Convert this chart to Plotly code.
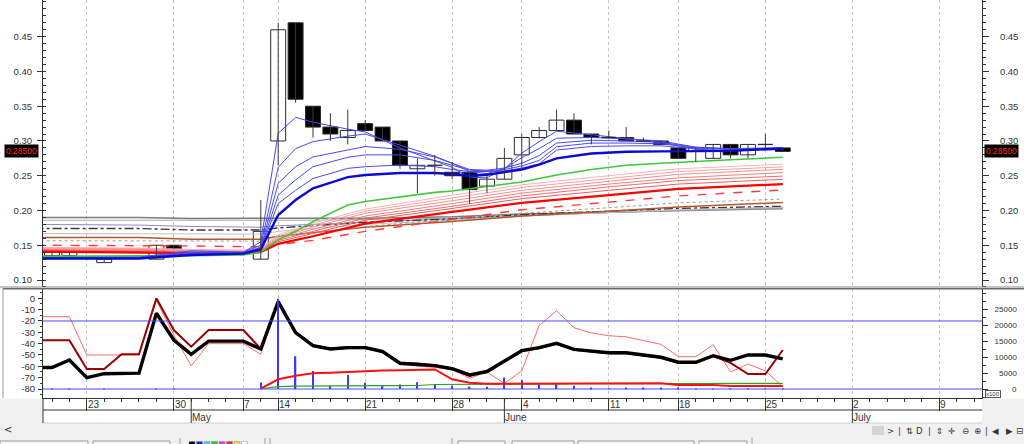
import plotly.graph_objects as go

# ---------------- data ----------------
AXIS_DATES = [
    "2018-04-18", "2018-04-19", "2018-04-20", "2018-04-23", "2018-04-24", "2018-04-25", "2018-04-26", "2018-04-27", "2018-04-30",
    "2018-05-02", "2018-05-03", "2018-05-04", "2018-05-07", "2018-05-08", "2018-05-14", "2018-05-15", "2018-05-16", "2018-05-17",
    "2018-05-18", "2018-05-21", "2018-05-22", "2018-05-23", "2018-05-24", "2018-05-25", "2018-05-28", "2018-05-30", "2018-05-31",
    "2018-06-01", "2018-06-04", "2018-06-05", "2018-06-06", "2018-06-07", "2018-06-08", "2018-06-11", "2018-06-12", "2018-06-13",
    "2018-06-14", "2018-06-18", "2018-06-19", "2018-06-20", "2018-06-21", "2018-06-22", "2018-06-25", "2018-06-26", "2018-06-27",
    "2018-06-28", "2018-06-29", "2018-07-02", "2018-07-03", "2018-07-04", "2018-07-05", "2018-07-06", "2018-07-09", "2018-07-10",
    "2018-07-11", "2018-07-12",
]
CANDLE_DATES = AXIS_DATES[:44]   # 2018-04-18 .. 2018-06-26

OPEN = [None, 0.135, 0.135, None, 0.125, None, None, 0.130, 0.150, None, None, None, None, 0.130,
        0.300, 0.470, 0.350, 0.320, 0.305, 0.325, 0.320, 0.300, 0.260, 0.265, 0.255, 0.255, 0.235, 0.245,
        0.280, 0.305, 0.315, 0.330, 0.310, 0.305, 0.305, 0.300, 0.300, 0.290, 0.285, 0.275, 0.295, 0.280, 0.295, 0.290]
HIGH = [None, 0.140, 0.140, None, 0.130, None, None, 0.150, 0.150, None, None, None, None, 0.215,
        0.470, 0.470, 0.350, 0.340, 0.345, 0.330, 0.320, 0.300, 0.275, 0.280, 0.270, 0.255, 0.250, 0.290,
        0.310, 0.320, 0.345, 0.340, 0.310, 0.315, 0.320, 0.305, 0.300, 0.290, 0.290, 0.295, 0.295, 0.295, 0.310, 0.290]
LOW = [None, 0.135, 0.135, None, 0.125, None, None, 0.130, 0.145, None, None, None, None, 0.130,
       0.265, 0.355, 0.305, 0.300, 0.295, 0.315, 0.300, 0.260, 0.225, 0.250, 0.245, 0.210, 0.225, 0.245,
       0.260, 0.305, 0.315, 0.310, 0.295, 0.305, 0.300, 0.300, 0.295, 0.275, 0.270, 0.275, 0.275, 0.275, 0.290, 0.285]
CLOSE = [None, 0.140, 0.140, None, 0.130, None, None, 0.150, 0.145, None, None, None, None, 0.170,
         0.460, 0.360, 0.320, 0.310, 0.315, 0.315, 0.300, 0.265, 0.265, 0.265, 0.250, 0.230, 0.245, 0.275,
         0.305, 0.315, 0.330, 0.310, 0.305, 0.305, 0.300, 0.300, 0.295, 0.275, 0.290, 0.295, 0.280, 0.295, 0.295, 0.285]
LAST_PRICE = 0.285

# short-term moving averages (read at these dates)
FAST_MA_DATES = ["2018-04-18", "2018-04-26", "2018-05-02", "2018-05-07", "2018-05-08", "2018-05-14", "2018-05-15",
                 "2018-05-16", "2018-05-18", "2018-05-21", "2018-05-23", "2018-05-25", "2018-05-28", "2018-05-30",
                 "2018-05-31", "2018-06-01", "2018-06-04", "2018-06-05", "2018-06-06", "2018-06-08", "2018-06-12",
                 "2018-06-14", "2018-06-19", "2018-06-21", "2018-06-26"]
BLUE_1 = [0.132, 0.133, 0.142, 0.140, 0.155, 0.311, 0.334, 0.327, 0.317, 0.313, 0.290, 0.272, 0.262, 0.248, 0.247,
          0.260, 0.2825, 0.299, 0.314, 0.309, 0.3035, 0.298, 0.288, 0.286, 0.289]
BLUE_2 = [0.132, 0.132, 0.140, 0.140, 0.150, 0.262, 0.289, 0.299, 0.307, 0.310, 0.294, 0.278, 0.268, 0.256, 0.253,
          0.260, 0.276, 0.289, 0.304, 0.305, 0.303, 0.300, 0.291, 0.288, 0.290]
BLUE_3 = [0.132, 0.132, 0.139, 0.139, 0.147, 0.239, 0.263, 0.277, 0.287, 0.292, 0.288, 0.277, 0.268, 0.259, 0.258,
          0.261, 0.268, 0.279, 0.297, 0.301, 0.300, 0.298, 0.291, 0.289, 0.290]
BLUE_4 = [0.132, 0.132, 0.138, 0.139, 0.146, 0.222, 0.244, 0.263, 0.2765, 0.280, 0.280, 0.272, 0.265, 0.258, 0.257,
          0.259, 0.264, 0.272, 0.2917, 0.297, 0.297, 0.296, 0.290, 0.289, 0.290]
BLUE_5 = [0.131, 0.131, 0.137, 0.138, 0.145, 0.210, 0.229, 0.246, 0.2606, 0.263, 0.2654, 0.263, 0.259, 0.256, 0.256,
          0.257, 0.261, 0.267, 0.287, 0.292, 0.293, 0.293, 0.289, 0.288, 0.289]
BLUE_THICK = [0.131, 0.131, 0.136, 0.138, 0.144, 0.1935, 0.215, 0.232, 0.248, 0.251, 0.254, 0.254, 0.2525, 0.2496,
              0.2515, 0.255, 0.259, 0.266, 0.275, 0.282, 0.2845, 0.285, 0.2856, 0.2858, 0.289]
GREEN = [0.134, 0.134, 0.135, 0.136, 0.140, 0.158, 0.170, 0.184, 0.208, 0.213, 0.220, 0.226, 0.228, 0.231, 0.234,
         0.237, 0.241, 0.246, 0.251, 0.259, 0.265, 0.268, 0.271, 0.273, 0.2765]

# long-term moving averages (read at these dates)
SLOW_MA_DATES = ["2018-04-18", "2018-04-26", "2018-05-02", "2018-05-07", "2018-05-08", "2018-05-14", "2018-05-16",
                 "2018-05-21", "2018-05-28", "2018-06-04", "2018-06-11", "2018-06-18", "2018-06-26"]
RED_1 = [0.147, 0.146, 0.144, 0.143, 0.146, 0.165, 0.182, 0.202, 0.222, 0.237, 0.250, 0.260, 0.2665]
RED_2 = [0.146, 0.145, 0.143, 0.142, 0.145, 0.163, 0.179, 0.199, 0.218, 0.233, 0.246, 0.256, 0.2628]
RED_3 = [0.145, 0.144, 0.142, 0.141, 0.144, 0.161, 0.176, 0.196, 0.214, 0.229, 0.242, 0.252, 0.2592]
RED_4 = [0.144, 0.143, 0.141, 0.140, 0.143, 0.159, 0.173, 0.192, 0.210, 0.225, 0.238, 0.247, 0.2545]
RED_5 = [0.143, 0.142, 0.140, 0.139, 0.142, 0.157, 0.170, 0.189, 0.206, 0.221, 0.234, 0.243, 0.2495]
RED_6 = [0.142, 0.141, 0.139, 0.138, 0.141, 0.155, 0.167, 0.186, 0.203, 0.217, 0.229, 0.238, 0.2448]
RED_THICK = [0.141, 0.140, 0.139, 0.138, 0.140, 0.152, 0.163, 0.181, 0.198, 0.211, 0.222, 0.231, 0.238]
RED_DASHED = [0.150, 0.150, 0.149, 0.148, 0.148, 0.151, 0.157, 0.170, 0.187, 0.201, 0.212, 0.221, 0.2294]
GREY_1 = [0.190, 0.190, 0.1885, 0.1885, 0.1885, 0.1885, 0.1885, 0.189, 0.191, 0.195, 0.198, 0.200, 0.2025]
GREY_2 = [0.186, 0.186, 0.185, 0.185, 0.185, 0.185, 0.186, 0.187, 0.189, 0.193, 0.197, 0.200, 0.2035]
LAVENDER = [0.180, 0.179, 0.177, 0.176, 0.176, 0.178, 0.180, 0.184, 0.188, 0.193, 0.197, 0.200, 0.2045]
DASHDOT = [0.174, 0.174, 0.172, 0.172, 0.172, 0.175, 0.178, 0.183, 0.188, 0.194, 0.199, 0.203, 0.206]
GREY_3 = [0.167, 0.167, 0.166, 0.166, 0.166, 0.170, 0.174, 0.180, 0.186, 0.192, 0.197, 0.201, 0.2045]
BROWN = [0.161, 0.161, 0.1585, 0.1585, 0.1585, 0.163, 0.168, 0.176, 0.184, 0.192, 0.199, 0.205, 0.2115]
DOTTED = [0.1565, 0.1565, 0.156, 0.156, 0.156, 0.162, 0.168, 0.177, 0.187, 0.196, 0.204, 0.211, 0.2165]

# lower panel: oscillator lines (left scale) for CANDLE_DATES
OSC_BLACK = [-61, -61, -54.4, -70, -66.5, -66, -66, -13.2, -36.8, -49.4, -37.8, -37.8, -37.8, -44.7,
             -3, -30.3, -41.8, -44.7, -43.5, -43.5, -47, -57.3, -58, -59.4, -62.1, -67.6, -64.6, -55.3,
             -46.2, -43.5, -39.7, -45, -46.2, -48, -48, -50, -52, -56.4, -56.4, -50.6, -54.7, -50, -50, -53.5]
OSC_DARKRED = [-37, -37, -37, -62.3, -62.3, -49.4, -49.4, 0, -28, -42.6, -28, -28, -28, -44.7,
               -3, -30, -41.5, -44.5, -43, -43, -46.5, -57, -57.5, -59, -62, -68.5, -64, -55.5,
               -46.5, -44, -40.2, -45.5, -46.8, -48.5, -48.5, -50.5, -52.5, -56.8, -56.8, -51, -57, -66.8, -66.8, -45.6]
OSC_LIGHTRED = [-16.2, -16.2, -16.2, -50, -50, -50, -50, -2, -32.4, -59.7, -40, -40, -40, -49.4,
                -3, -30.8, -42.5, -45.5, -44.5, -44.5, -48, -58.5, -59.5, -61, -63, -70.5, -65, -75,
                -64, -24, -11, -26, -30.5, -33, -34, -37, -40.6, -51.5, -51.5, -41, -65, -58, -64, -78]
OSC_LEVELS = [-20, -80]

# lower panel: volume (x100, right scale) and its averages
VOLUME = [0, 40, 40, 0, 40, 0, 0, 40, 40, 0, 0, 0, 0, 2000,
          28200, 10200, 5600, 1050, 4360, 1970, 1050, 1400, 2100, 1230, 1050, 700, 700, 3600,
          2800, 1400, 1650, 1000, 350, 100, 500, 350, 200, 300, 150, 150, 50, 50, 50, 150]
VOL_AVG_FAST = [None, None, None, None, None, None, None, None, None, None, None, None, None, 150,
                3030, 4150, 4900, 5100, 5400, 5630, 5800, 5880, 6000, 6120, 3030, 1970, 1650, 1650,
                1650, 1870, 1870, 1870, 1760, 1760, 1760, 1760, 1760, 1270, 1270, 1270, 950, 950, 950, 950]
VOL_AVG_SLOW = [None, None, None, None, None, None, None, None, None, None, None, None, None, 80,
                740, 880, 950, 1000, 1050, 1050, 1050, 1050, 1100, 1400, 1400, 1450, 1500, 1580,
                1580, 1600, 1620, 1640, 1650, 1660, 1670, 1680, 1690, 1700, 1710, 1720, 1730, 1740, 1750, 1760]

# axis labels
WEEK_TICKS = ["2018-04-23", "2018-04-30", "2018-05-07", "2018-05-14", "2018-05-21", "2018-05-28",
              "2018-06-04", "2018-06-11", "2018-06-18", "2018-06-25", "2018-07-02", "2018-07-09"]
MONTH_TICKS = ["2018-05-02", "2018-06-01", "2018-07-02"]
MONTH_LABELS = ["May", "June", "July"]
PRICE_TICKS = [0.10, 0.15, 0.20, 0.25, 0.30, 0.35, 0.40, 0.45]
OSC_TICKS = [0, -10, -20, -30, -40, -50, -60, -70, -80]
VOL_TICKS = [0, 5000, 10000, 15000, 20000, 25000]


# ---------------- helpers ----------------
def idx(dates):
    return [AXIS_DATES.index(d) for d in dates]


W, H = 1024, 444
ML, MR, MT, MB = 43, 42, 0, 46
PW, PH = W - ML - MR, H - MT - MB


def px(xp):
    return (xp - ML) / PW


def py(yp):
    return (H - MB - yp) / PH


FONT = "Liberation Sans, Arial, sans-serif"
fig = go.Figure()

# ---------------- price panel lines ----------------
slow_x = idx(SLOW_MA_DATES)
fast_x = idx(FAST_MA_DATES)
slow_lines = [
    (GREY_1, "#7a7a7a", 1.5, "solid"), (GREY_2, "#a8a8a8", 1, "solid"), (LAVENDER, "#8c8cc8", 1, "solid"),
    (DASHDOT, "#3a3a3a", 1.4, "dashdot"), (GREY_3, "#c2c2c2", 1, "solid"), (BROWN, "#b4562a", 1.5, "solid"),
    (DOTTED, "#9a9a9a", 1, "dot"),
    (RED_1, "#f7b4b4", 1, "solid"), (RED_2, "#f5a2a2", 1, "solid"), (RED_3, "#f39090", 1, "solid"),
    (RED_4, "#f08080", 1, "solid"), (RED_5, "#ee6e6e", 1, "solid"), (RED_6, "#ec5c5c", 1, "solid"),
    (RED_DASHED, "#ff3a3a", 1.4, "dash"), (RED_THICK, "#ff0000", 2.2, "solid"),
]
for vals, col, wd, dash in slow_lines:
    fig.add_trace(go.Scatter(x=slow_x, y=vals, mode="lines", xaxis="x", yaxis="y",
                             line=dict(color=col, width=wd, dash=dash), hoverinfo="skip"))

fast_lines = [
    (GREEN, "#3cc83c", 1.6), (BLUE_5, "#4a4af0", 1), (BLUE_4, "#4a4af0", 1), (BLUE_3, "#4a4af0", 1),
    (BLUE_2, "#4a4af0", 1), (BLUE_1, "#4a4af0", 1), (BLUE_THICK, "#0a0ad2", 2.4),
]
for vals, col, wd in fast_lines:
    fig.add_trace(go.Scatter(x=fast_x, y=vals, mode="lines", xaxis="x", yaxis="y",
                             line=dict(color=col, width=wd), hoverinfo="skip"))

# ---------------- candles ----------------
cx = idx(CANDLE_DATES)
wx, wy, bx, bb, bh, bc, dx, dy = [], [], [], [], [], [], [], []
for i, o, h, l, c in zip(cx, OPEN, HIGH, LOW, CLOSE):
    if o is None:
        continue
    wx += [i, i, None]
    wy += [l, h, None]
    if abs(c - o) < 1e-9:
        dx += [i - 0.43, i + 0.43, None]
        dy += [o, o, None]
    else:
        bx.append(i)
        bb.append(min(o, c))
        bh.append(abs(c - o))
        bc.append("rgba(255,255,255,0)" if c > o else "#000000")
fig.add_trace(go.Scatter(x=wx, y=wy, mode="lines", xaxis="x", yaxis="y",
                         line=dict(color="#3a3a3a", width=1), hoverinfo="skip"))
fig.add_trace(go.Scatter(x=dx, y=dy, mode="lines", xaxis="x", yaxis="y",
                         line=dict(color="#2a2a2a", width=1.3), hoverinfo="skip"))
fig.add_trace(go.Bar(x=bx, y=bh, base=bb, width=0.86, xaxis="x", yaxis="y",
                     marker=dict(color=bc, line=dict(color="#2a2a2a", width=1)), hoverinfo="skip"))
fig.add_trace(go.Scatter(x=[cx[-1]], y=[LAST_PRICE], mode="markers", xaxis="x", yaxis="y4",
                         marker=dict(size=1, opacity=0), hoverinfo="skip"))

# ---------------- lower panel ----------------
fig.add_trace(go.Bar(x=cx, y=VOLUME, width=0.08, xaxis="x", yaxis="y3",
                     marker=dict(color="#3a3aff", line=dict(width=0)), hoverinfo="skip"))
fig.add_trace(go.Scatter(x=cx, y=VOL_AVG_SLOW, mode="lines", xaxis="x", yaxis="y3",
                         line=dict(color="#2ea02e", width=1.2), hoverinfo="skip"))
fig.add_trace(go.Scatter(x=cx, y=VOL_AVG_FAST, mode="lines", xaxis="x", yaxis="y3",
                         line=dict(color="#ff1010", width=2), hoverinfo="skip"))
fig.add_trace(go.Scatter(x=cx, y=OSC_LIGHTRED, mode="lines", xaxis="x", yaxis="y2",
                         line=dict(color="#ff6a6a", width=1), hoverinfo="skip"))
fig.add_trace(go.Scatter(x=cx, y=OSC_DARKRED, mode="lines", xaxis="x", yaxis="y2",
                         line=dict(color="#9a0000", width=2), hoverinfo="skip"))
fig.add_trace(go.Scatter(x=cx, y=OSC_BLACK, mode="lines", xaxis="x", yaxis="y2",
                         line=dict(color="#000000", width=3.4), hoverinfo="skip"))

# ---------------- axes ----------------
axis_font = dict(family=FONT, size=9.5, color="#333333")
vol_font = dict(family=FONT, size=8, color="#333333")
top_dom = [py(287), 1]
bot_dom = [0, py(288.5)]
y_top = [0.10 - 7 / 695.2, 0.45 + 36.7 / 695.2]
y_osc = [-80 - (398 - 389) / 1.1338, 0 + (298.3 - 288.5) / 1.1338]
y_vol = [-(398 - 389) * 312.5, 25000 + (309 - 288.5) * 312.5]
vol_text = ["" if v == 0 else str(v).rjust(5, "\u2007") for v in VOL_TICKS]

fig.update_layout(
    width=W, height=H, margin=dict(l=ML, r=MR, t=MT, b=MB, autoexpand=False),
    paper_bgcolor="white", plot_bgcolor="white", showlegend=False, hovermode=False,
    barmode="overlay", font=dict(family=FONT, size=10, color="#333333"),
    xaxis=dict(domain=[0, 1], anchor="y2", range=[0.483, 54.45], tickmode="array",
               tickvals=idx(WEEK_TICKS), showticklabels=False, ticks="outside", ticklen=12,
               tickcolor="#333333", tickwidth=1, showgrid=True, gridcolor="#c4c4c4", griddash="dot",
               gridwidth=1, zeroline=False, showline=True, linecolor="#333333", linewidth=1,
               minor=dict(tickmode="linear", tick0=0, dtick=1, ticks="outside", ticklen=3,
                          tickcolor="#333333", showgrid=False)),
    yaxis=dict(domain=top_dom, anchor="x", range=y_top, tickmode="array", tickvals=PRICE_TICKS,
               ticktext=["%.2f" % v for v in PRICE_TICKS], ticks="outside", ticklen=5, tickcolor="#333333",
               showline=True, linecolor="#333333", showgrid=False, zeroline=False, tickfont=axis_font,
               ticklabelstandoff=3,
               minor=dict(tickmode="linear", tick0=0, dtick=0.01, ticks="inside", ticklen=3,
                          tickcolor="#333333", showgrid=False)),
    yaxis4=dict(overlaying="y", side="right", anchor="x", range=y_top, tickmode="array",
                tickvals=PRICE_TICKS, ticktext=["%.2f" % v for v in PRICE_TICKS], ticks="outside",
                ticklen=6, tickcolor="#333333", showline=True, linecolor="#333333", showgrid=False,
                zeroline=False, tickfont=axis_font, ticklabelstandoff=9,
                minor=dict(tickmode="linear", tick0=0, dtick=0.01, ticks="outside", ticklen=3,
                           tickcolor="#333333", showgrid=False)),
    yaxis2=dict(domain=bot_dom, anchor="x", range=y_osc, tickmode="array", tickvals=OSC_TICKS,
                ticktext=[str(v) for v in OSC_TICKS], ticks="outside", ticklen=4, tickcolor="#333333",
                showline=True, linecolor="#333333", showgrid=False, zeroline=False, tickfont=axis_font,
                ticklabelstandoff=1,
                minor=dict(tickmode="linear", tick0=0, dtick=5, ticks="outside", ticklen=2,
                           tickcolor="#333333", showgrid=False)),
    yaxis3=dict(overlaying="y2", side="right", anchor="x", range=y_vol, tickmode="array",
                tickvals=VOL_TICKS, ticktext=vol_text,
                ticks="outside", ticklen=5, tickcolor="#333333", showline=True, linecolor="#333333",
                showgrid=False, zeroline=False, tickfont=vol_font, ticklabelstandoff=5,
                minor=dict(tickmode="linear", tick0=0, dtick=2500, ticks="outside", ticklen=3,
                           tickcolor="#333333", showgrid=False)),
)

# ---------------- shapes ----------------
shapes = []
xl, xr = px(0), px(W)
shapes.append(dict(type="line", xref="paper", yref="paper", x0=xl, x1=xr, y0=py(287), y1=py(287),
                   line=dict(color="#8a8a8a", width=1)))
shapes.append(dict(type="line", xref="paper", yref="paper", x0=px(3), x1=xr, y0=py(288.8), y1=py(288.8),
                   line=dict(color="#6a6a6a", width=1.5)))
shapes.append(dict(type="line", xref="paper", yref="paper", x0=px(3), x1=px(3), y0=py(288.8), y1=py(398),
                   line=dict(color="#9a9a9a", width=1)))
for lv in OSC_LEVELS:
    shapes.append(dict(type="line", xref="paper", yref="y2", x0=0, x1=1, y0=lv, y1=lv,
                       line=dict(color="#4a4aff", width=1)))
shapes.append(dict(type="rect", xref="paper", yref="paper", x0=xl, x1=0, y0=py(398.5), y1=py(423),
                   fillcolor="#f0f0f0", line=dict(width=0), layer="below"))
shapes.append(dict(type="rect", xref="paper", yref="paper", x0=1, x1=xr, y0=py(398.5), y1=py(423),
                   fillcolor="#f0f0f0", line=dict(width=0), layer="below"))
shapes.append(dict(type="rect", xref="paper", yref="paper", x0=xl, x1=xr, y0=py(423), y1=py(H + 2),
                   fillcolor="#f0f0f0", line=dict(width=0), layer="below"))
shapes.append(dict(type="line", xref="paper", yref="paper", x0=0, x1=1, y0=py(410), y1=py(410),
                   line=dict(color="#333333", width=1)))
shapes.append(dict(type="line", xref="paper", yref="paper", x0=0, x1=1, y0=py(423), y1=py(423),
                   line=dict(color="#d0d0d0", width=1)))
shapes.append(dict(type="line", xref="paper", yref="paper", x0=0, x1=0, y0=py(398), y1=py(423),
                   line=dict(color="#333333", width=1)))
for m in idx(MONTH_TICKS):
    shapes.append(dict(type="line", xref="x", yref="paper", x0=m, x1=m, y0=py(398), y1=py(423),
                       line=dict(color="#333333", width=1)))
shapes.append(dict(type="rect", xref="paper", yref="paper", x0=px(872), x1=px(884), y0=py(426), y1=py(435),
                   fillcolor="#d4d4d4", line=dict(width=0)))
for a, b in [(0, 88), (93, 170), (458, 505), (512, 574), (578, 694), (699, 747)]:
    shapes.append(dict(type="rect", xref="paper", yref="paper", x0=px(a), x1=px(b), y0=py(441), y1=py(447),
                       fillcolor="#f6f6f6", line=dict(color="#9a9a9a", width=1)))
for k, col in enumerate(["#000000", "#2020d0", "#40d0e0", "#30c030", "#e040e0", "#e03030", "#e0e040", "#ffffff"]):
    shapes.append(dict(type="rect", xref="paper", yref="paper", x0=px(189 + 7.5 * k), x1=px(195 + 7.5 * k),
                       y0=py(441.5), y1=py(447), fillcolor=col, line=dict(color="#888888", width=0.5)))
for sx in [180, 265, 270, 452, 752]:
    shapes.append(dict(type="line", xref="paper", yref="paper", x0=px(sx), x1=px(sx), y0=py(438), y1=py(444),
                       line=dict(color="#a0a0a0", width=1)))
fig.update_layout(shapes=shapes)

# ---------------- annotations ----------------
ann = []
for tag_x in [21.5, 1001]:
    ann.append(dict(text="0.28500", xref="paper", yref="y", x=px(tag_x), y=LAST_PRICE, showarrow=False,
                    xanchor="center", yanchor="middle", bgcolor="#000000", borderpad=1,
                    font=dict(family=FONT, size=8.5, color="#ff2a2a")))
ann.append(dict(text=str(VOL_TICKS[0]), xref="paper", yref="y3", x=px(1010), y=VOL_TICKS[0], showarrow=False,
                xanchor="left", yanchor="middle", font=vol_font))
ann.append(dict(text="x100", xref="paper", yref="paper", x=px(992.5), y=py(394), showarrow=False,
                xanchor="center", yanchor="middle", bgcolor="white", bordercolor="#555555", borderwidth=1,
                borderpad=0, font=dict(family=FONT, size=6, color="#333333")))
for d in WEEK_TICKS:
    ann.append(dict(text=str(int(d[-2:])), xref="x", yref="paper", x=AXIS_DATES.index(d), y=py(404.5),
                    showarrow=False, xanchor="left", yanchor="middle", xshift=-1,
                    font=dict(family=FONT, size=10, color="#333333")))
for d, lab in zip(MONTH_TICKS, MONTH_LABELS):
    ann.append(dict(text=lab, xref="x", yref="paper", x=AXIS_DATES.index(d), y=py(417),
                    showarrow=False, xanchor="left", yanchor="middle", xshift=-1,
                    font=dict(family=FONT, size=10, color="#333333")))
ann.append(dict(text="&lt;", xref="paper", yref="paper", x=px(8), y=py(430), showarrow=False,
                xanchor="center", yanchor="middle", font=dict(family="DejaVu Sans", size=10, color="#333333")))
icons = [(890, "&gt;"), (899, "|"), (909, "⇅"), (919, "D"), (929, "|"), (939, "⇕"), (951, "✛"),
         (965, "⊖"), (977, "⊕"), (986, "|"), (995, "◀"), (1009, "▶"), (1020, "⊟")]
for ix, t in icons:
    ann.append(dict(text=t, xref="paper", yref="paper", x=px(ix), y=py(430.5), showarrow=False,
                    xanchor="center", yanchor="middle", font=dict(family="DejaVu Sans", size=8.5, color="#333333")))
fig.update_layout(annotations=ann)

fig.write_html("out.html", config={"displayModeBar": False},
               post_script="document.body.style.margin='0px';document.body.style.overflow='hidden';")
